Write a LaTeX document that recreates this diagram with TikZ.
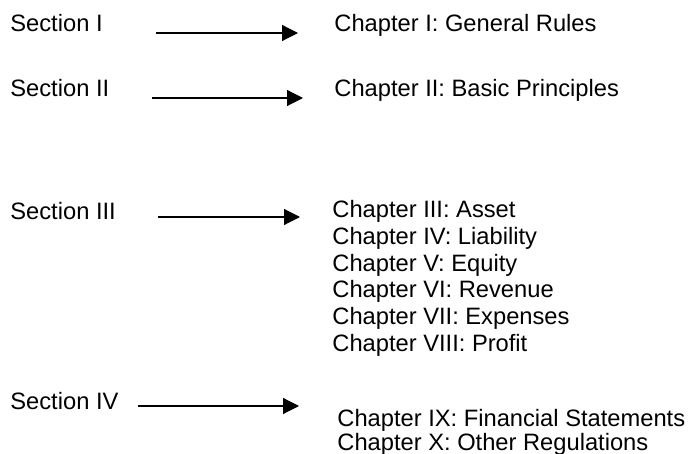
\documentclass[tikz,border=0pt]{standalone}
\usepackage{fontspec}
\setmainfont{Liberation Sans}
\usetikzlibrary{arrows.meta}

\begin{document}
\begin{tikzpicture}[x=0.5pt,y=-0.5pt,>={Triangle[length=8pt,width=8pt]},
  txt/.style={anchor=base west,inner sep=0pt,font=\fontsize{11.85}{13}\selectfont},
  arr/.style={->,line width=0.6pt}]
\useasboundingbox (0,0) rectangle (692,454);

% Sections
\node[txt] (sec1) at (10,32)  {Section I};
\node[txt] (sec2) at (10,97)  {Section II};
\node[txt] (sec3) at (10,220) {Section III};
\node[txt] (sec4) at (10,410) {Section IV};

% Chapters
\node[txt] (ch1) at (334,32) {Chapter I: General Rules};
\node[txt] (ch2) at (334,97) {Chapter II: Basic Principles};

\node[txt] (ch3) at (332,218) {Chapter III: Asset};
\node[txt] (ch4) at (332,245) {Chapter IV: Liability};
\node[txt] (ch5) at (332,272) {Chapter V: Equity};
\node[txt] (ch6) at (332,298) {Chapter VI: Revenue};
\node[txt] (ch7) at (332,325) {Chapter VII: Expenses};
\node[txt] (ch8) at (332,352) {Chapter VIII: Profit};

\node[txt] (ch9)  at (337,427) {Chapter IX: Financial Statements};
\node[txt] (ch10) at (337,451) {Chapter X: Other Regulations};

% Arrow ends
\coordinate (a1s) at (156,33);  \coordinate (a1e) at (298,33);
\coordinate (a2s) at (152,98);  \coordinate (a2e) at (303,98);
\coordinate (a3s) at (158,217); \coordinate (a3e) at (300,217);
\coordinate (a4s) at (138,406); \coordinate (a4e) at (299,406);

% Arrows
\draw[arr] (a1s) -- (a1e);
\draw[arr] (a2s) -- (a2e);
\draw[arr] (a3s) -- (a3e);
\draw[arr] (a4s) -- (a4e);

\end{tikzpicture}
\end{document}
